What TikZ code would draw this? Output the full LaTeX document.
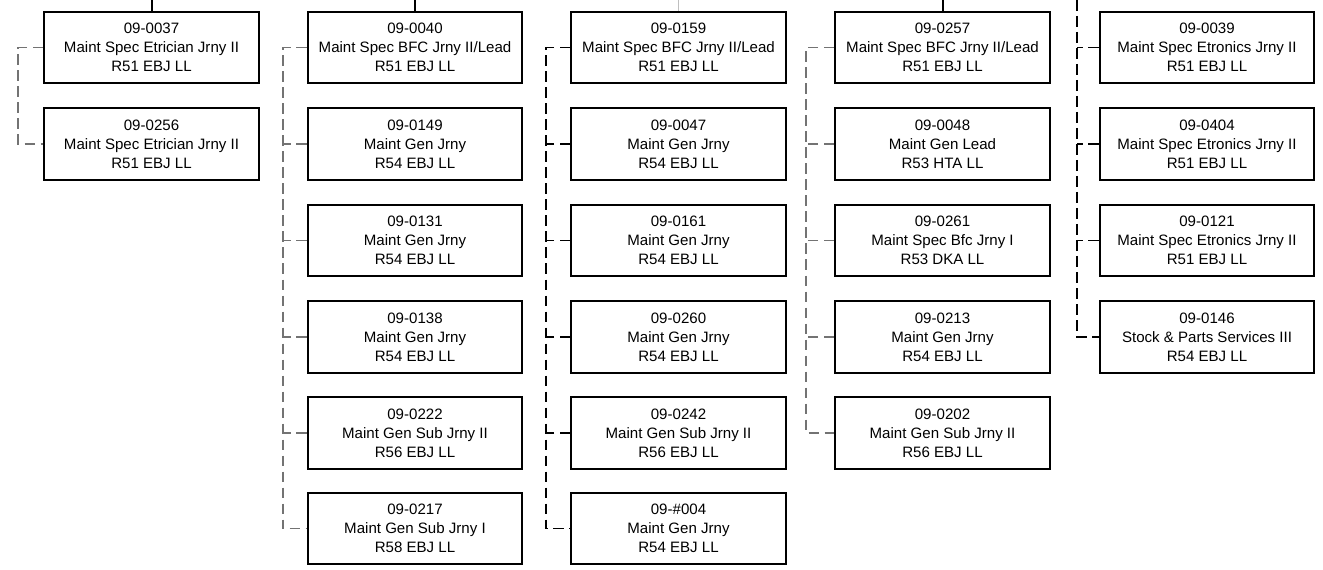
\documentclass[tikz,border=0pt]{standalone}
\usepackage{fontspec}
\setmainfont{Liberation Sans}
\usetikzlibrary{positioning}
\tikzset{
    post/.style = {rectangle, line width=1.5pt, draw=black, align=center, minimum width=161pt, minimum height=53.5pt, inner sep=0pt, font=\fontsize{11.3}{14.25}\selectfont},
    busg/.style = {line width=1.4pt, draw=black!55, dash pattern=on 8pt off 4pt},
    busb/.style = {line width=1.4pt, draw=black, dash pattern=on 8pt off 4pt},
    topn/.style = {line width=1.5pt, draw=black},
    topg/.style = {line width=0.8pt, draw=black!25},
}

\begin{document}
\begin{tikzpicture}[x=0.75pt,y=-0.75pt]
\useasboundingbox (0,0) rectangle (1323,570);
\node[post] at (151.5, 47.5) (p0037) {09-0037\\Maint Spec Etrician Jrny II\\R51 EBJ LL};
\node[post] at (151.5,144.0) (p0256) {09-0256\\Maint Spec Etrician Jrny II\\R51 EBJ LL};
%
\node[post] at (415.0, 47.5) (p0040) {09-0040\\Maint Spec BFC Jrny II/Lead\\R51 EBJ LL};
\node[post] at (415.0,144.0) (p0149) {09-0149\\Maint Gen Jrny\\R54 EBJ LL};
\node[post] at (415.0,240.5) (p0131) {09-0131\\Maint Gen Jrny\\R54 EBJ LL};
\node[post] at (415.0,337.0) (p0138) {09-0138\\Maint Gen Jrny\\R54 EBJ LL};
\node[post] at (415.0,433.0) (p0222) {09-0222\\Maint Gen Sub Jrny II\\R56 EBJ LL};
\node[post] at (415.0,528.5) (p0217) {09-0217\\Maint Gen Sub Jrny I\\R58 EBJ LL};
%
\node[post] at (678.5, 47.5) (p0159) {09-0159\\Maint Spec BFC Jrny II/Lead\\R51 EBJ LL};
\node[post] at (678.5,144.0) (p0047) {09-0047\\Maint Gen Jrny\\R54 EBJ LL};
\node[post] at (678.5,240.5) (p0161) {09-0161\\Maint Gen Jrny\\R54 EBJ LL};
\node[post] at (678.5,337.0) (p0260) {09-0260\\Maint Gen Jrny\\R54 EBJ LL};
\node[post] at (678.5,433.0) (p0242) {09-0242\\Maint Gen Sub Jrny II\\R56 EBJ LL};
\node[post] at (678.5,528.5) (p004x) {09-\#004\\Maint Gen Jrny\\R54 EBJ LL};
%
\node[post] at (942.5, 47.5) (p0257) {09-0257\\Maint Spec BFC Jrny II/Lead\\R51 EBJ LL};
\node[post] at (942.5,144.0) (p0048) {09-0048\\Maint Gen Lead\\R53 HTA LL};
\node[post] at (942.5,240.5) (p0261) {09-0261\\Maint Spec Bfc Jrny I\\R53 DKA LL};
\node[post] at (942.5,337.0) (p0213) {09-0213\\Maint Gen Jrny\\R54 EBJ LL};
\node[post] at (942.5,433.0) (p0202) {09-0202\\Maint Gen Sub Jrny II\\R56 EBJ LL};
%
\node[post] at (1207.0, 47.5) (p0039) {09-0039\\Maint Spec Etronics Jrny II\\R51 EBJ LL};
\node[post] at (1207.0,144.0) (p0404) {09-0404\\Maint Spec Etronics Jrny II\\R51 EBJ LL};
\node[post] at (1207.0,240.5) (p0121) {09-0121\\Maint Spec Etronics Jrny II\\R51 EBJ LL};
\node[post] at (1207.0,337.0) (p0146) {09-0146\\Stock \& Parts Services III\\R54 EBJ LL};
%
\coordinate (t1) at (151.5,0);
\coordinate (t2) at (415.0,0);
\coordinate (t3) at (678.5,0);
\coordinate (t4) at (942.5,0);
\coordinate (t5) at (1077.0,0);
\draw[topn] (t1) -- (p0037.north);
\draw[topn] (t2) -- (p0040.north);
\draw[topg] (t3) -- (p0159.north);
\draw[topn] (t4) -- (p0257.north);
%
\draw[busg] (p0037.west) -- ++(-25,0) |- (p0256.west);
%
\draw[busg] (p0040.west) -- ++(-24,0) |- (p0217.west);
\draw[busg] (p0149.west) -- ++(-24,0);
\draw[busg] (p0131.west) -- ++(-24,0);
\draw[busg] (p0138.west) -- ++(-24,0);
\draw[busg] (p0222.west) -- ++(-24,0);
%
\draw[busb] (p0159.west) -- ++(-24,0) |- (p004x.west);
\draw[busb] (p0047.west) -- ++(-24,0);
\draw[busb] (p0161.west) -- ++(-24,0);
\draw[busb] (p0260.west) -- ++(-24,0);
\draw[busb] (p0242.west) -- ++(-24,0);
%
\draw[busg] (p0257.west) -- ++(-28,0) |- (p0202.west);
\draw[busg] (p0048.west) -- ++(-28,0);
\draw[busg] (p0261.west) -- ++(-28,0);
\draw[busg] (p0213.west) -- ++(-28,0);
%
\draw[busb] (t5) |- (p0146.west);
\draw[busb] (p0039.west) -- ++(-22,0);
\draw[busb] (p0404.west) -- ++(-22,0);
\draw[busb] (p0121.west) -- ++(-22,0);
\end{tikzpicture}
\end{document}
